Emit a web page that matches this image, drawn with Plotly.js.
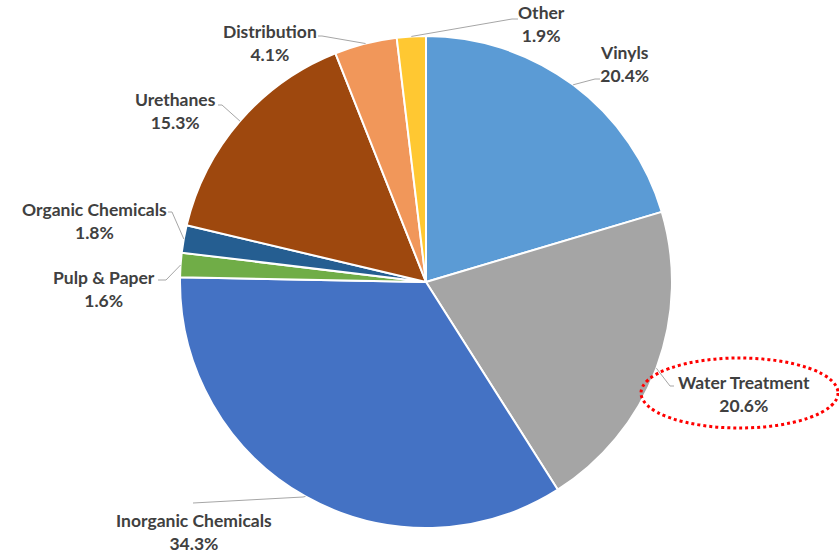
<!DOCTYPE html>
<html><head><meta charset="utf-8">
<script src="https://cdn.plot.ly/plotly-3.0.1.min.js"></script>
<style>html,body{margin:0;padding:0;background:#fff;}#chart{width:839px;height:554px;}</style>
</head><body><div id="chart"></div>
<script>
const categories = ["Vinyls","Water Treatment","Inorganic Chemicals","Pulp & Paper","Organic Chemicals","Urethanes","Distribution","Other"];
const values = [20.4, 20.6, 34.3, 1.6, 1.8, 15.3, 4.1, 1.9];
const colors = ["#5B9BD5","#A5A5A5","#4472C4","#70AD47","#255E91","#9E480E","#F1975A","#FFC832"];
// label layout (pixel positions of label block centre and leader-line elbow/end)
const labelPos = [[624,64],[744,394],[194,532],[104,289],[94,221],[175,111],[270,43],[541,24]];
const leaderEnd = [[[595,79],[600,79]],[[670,386],[674,386]],[[303,497],[193,503]],[[166,280],[158,280]],[[172,212],[168,212]],[[222,105],[218,105]],[[322,36],[318,36]],[[512,19],[518,19]]];

const W=839,H=554, cx=426, cy=282, R=246;
const px = x=>x/W, py = y=>1-y/H;
const total = values.reduce((a,b)=>a+b,0);
let cum=0;
const annotations=[], shapes=[];
values.forEach((v,i)=>{
  const mid=(cum+v/2)/total*2*Math.PI; cum+=v;
  const ex=cx+R*Math.sin(mid), ey=cy-R*Math.cos(mid);
  const pts=[[ex,ey]].concat(leaderEnd[i]);
  shapes.push({type:'path',xref:'paper',yref:'paper',
    path:pts.map((p,k)=>(k?'L':'M')+px(p[0])+','+py(p[1])).join(' '),
    line:{color:'#A6A6A6',width:1}});
  annotations.push({xref:'paper',yref:'paper',x:px(labelPos[i][0]),y:py(labelPos[i][1]),
    xanchor:'center',yanchor:'middle',showarrow:false,align:'center',
    text:'<b>'+categories[i]+'<br>'+v.toFixed(1)+'%</b>',
    font:{family:'Lato',size:17.5,color:'#404040'}});
});
shapes.push({type:'circle',xref:'paper',yref:'paper',x0:px(641),x1:px(838),y0:py(358),y1:py(428),
  line:{color:'#FF0000',width:3,dash:'dot'}});

Plotly.newPlot('chart',[{
  type:'pie',labels:categories,values:values,sort:false,direction:'clockwise',rotation:0,
  marker:{colors:colors,line:{color:'#FFFFFF',width:2}},
  textinfo:'none',hoverinfo:'label+percent',
  domain:{x:[px(180),px(672)],y:[py(528),py(36)]}
}],{
  width:W,height:H,margin:{l:0,r:0,t:0,b:0},showlegend:false,
  paper_bgcolor:'#FFFFFF',annotations:annotations,shapes:shapes
},{displayModeBar:false,staticPlot:true});
</script></body></html>
